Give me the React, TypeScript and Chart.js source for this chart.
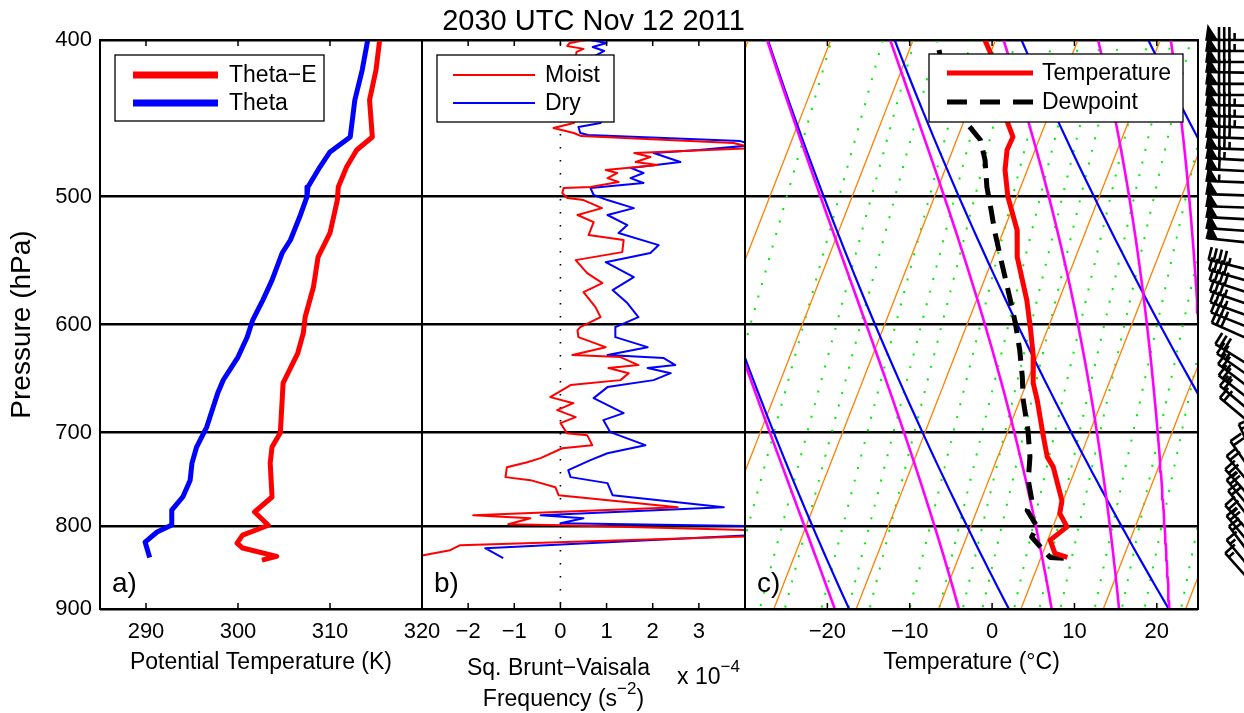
import React, { useEffect, useRef } from "react";
import { Chart, registerables } from "chart.js";

Chart.register(...registerables);

const FONT = "'Liberation Sans', Arial, Helvetica, sans-serif";

// ---------------- text ----------------
const chartTitle = "2030 UTC Nov 12 2011";
const yAxisTitle = "Pressure (hPa)";
const xTitleA = "Potential Temperature (K)";
const xTitleB1 = "Sq. Brunt\u2212Vaisala";
const xTitleB2 = "Frequency (s";
const xTitleB2Sup = "\u22122";
const xTitleC = "Temperature (\u00B0C)";
const exponentBase = "x 10";
const exponentSup = "\u22124";
const panelLetters = ["a)", "b)", "c)"];

// ---------------- ticks ----------------
const pressureTicks = [400, 500, 600, 700, 800, 900];
const thetaTicks = [290, 300, 310, 320];
const bvTicks = [-2, -1, 0, 1, 2, 3];
const tempTicks = [-20, -10, 0, 10, 20];

// ---------------- panel a : potential temperature (K) ----------------
const thetaEPres = [400, 417.5, 435.7, 459.3, 467.9, 479.4, 493.2, 502.5, 526.6, 545.0, 568.8, 593.6, 607.3, 624.9, 652.2, 668.3, 700.0, 714.5, 731.0, 767.2, 783.8, 798.7, 810.1, 819.3, 825.1, 835.0, 839.5];
const thetaEVals = [315.4, 315.0, 314.3, 314.6, 312.9, 311.8, 310.9, 310.8, 310.0, 308.7, 308.2, 307.3, 307.1, 306.5, 304.9, 304.8, 304.6, 303.7, 303.5, 303.7, 301.8, 303.3, 300.5, 299.9, 300.5, 304.2, 302.6];
const thetaPres = [400, 417.5, 435.7, 459.3, 469.2, 479.4, 493.2, 500, 514.8, 531.9, 541.9, 563.2, 579.5, 596.2, 610.8, 628.5, 649.4, 661.6, 694.4, 714.5, 731.0, 749.0, 767.2, 781.6, 798.5, 806.5, 818.1, 836.2];
const thetaVals = [314.1, 313.5, 312.7, 312.2, 310.0, 308.9, 307.6, 307.5, 306.7, 305.7, 304.8, 303.7, 302.7, 301.6, 301.0, 300.0, 298.4, 297.8, 296.6, 295.5, 295.0, 294.8, 294.0, 292.8, 292.8, 291.2, 289.9, 290.4];

// ---------------- panel b : N^2 (x 1e-4 s^-2) ----------------
const moistPres = [400, 401.7, 403.4, 405.1, 406.8, 414.5, 426.5, 438.8, 447.0, 450.2, 453.5, 456.7, 458.7, 463.3, 466.6, 469.9, 472.6, 476.0, 478.0, 481.4, 483.5, 487.0, 489.7, 493.2, 493.9, 497.5, 501.0, 502.5, 508.3, 513.3, 518.5, 528.2, 532.0, 541.2, 547.4, 557.6, 565.6, 572.9, 585.3, 593.7, 602.2, 604.8, 610.9, 619.7, 626.7, 628.5, 635.7, 638.4, 643.1, 649.5, 654.1, 665.4, 671.2, 677.9, 684.7, 690.5, 700.5, 702.5, 712.6, 715.7, 725.9, 730.1, 735.3, 745.8, 749.0, 756.6, 765.2, 778.4, 787.4, 790.8, 797.6, 798.7, 804.4, 811.3, 821.8, 827.6, 833.6, 839.5];
const moistN2 = [0.55, 0.2, 0.15, 0.5, 0.35, 0.3, 0.45, 0.2, 0.35, 0.29, -0.15, 0.29, 0.45, 3.75, 4.2, 1.6, 1.95, 1.63, 2.1, 0.98, 1.23, 1.02, 1.26, 0.65, 0.07, 0.04, 0.15, 0.5, 0.9, 0.37, 0.72, 0.61, 1.37, 1.34, 0.33, 0.58, 0.91, 0.5, 0.76, 0.87, 0.43, 0.37, 0.39, 0.98, 0.26, 1.3, 1.69, 1.04, 1.48, 1.3, 0.22, -0.22, 0.28, -0.07, 0.33, 0, 0.14, 0.58, 0.69, 0.04, -0.43, -0.72, -1.16, -1.19, -0.65, -0.11, -0.04, 2.54, -1.89, -0.65, -1.13, 0.04, 4.2, 4.2, -2.17, -2.39, -2.97, -3.5];
const dryPres = [400, 401.7, 404.0, 406.3, 409.2, 423.5, 435.7, 447.0, 450.2, 452.8, 456.7, 458.0, 462.0, 464.6, 467.9, 469.9, 476.0, 480.0, 483.5, 487.0, 490.4, 493.9, 498.9, 502.5, 508.3, 513.3, 520.7, 526.7, 535.8, 541.9, 549.0, 560.8, 571.3, 581.9, 593.7, 602.2, 610.9, 619.7, 626.7, 629.4, 635.7, 638.4, 643.1, 649.5, 656.0, 666.4, 680.8, 687.6, 699.5, 712.6, 720.8, 728.0, 738.4, 745.8, 752.2, 765.2, 778.4, 787.4, 790.8, 796.4, 799.8, 810.1, 825.3, 837.1];
const dryN2 = [0.65, 1.0, 0.7, 0.95, 0.75, 0.85, 0.6, 0.95, 0.87, 0.39, 0.43, 0.6, 3.9, 4.2, 3.0, 2.02, 2.6, 1.52, 1.8, 1.52, 1.8, 0.65, 0.72, 1.02, 1.59, 1.02, 1.45, 1.26, 2.13, 1.95, 0.98, 1.59, 1.13, 1.45, 1.69, 1.19, 1.19, 1.89, 1.02, 2.24, 2.49, 1.89, 2.39, 2.02, 1.02, 0.72, 1.37, 0.93, 1.08, 1.84, 1.02, 0.65, 0.17, 0.22, 1.02, 1.13, 3.54, -0.43, 0.5, 0, 4.2, 4.2, -1.63, -1.24];

// ---------------- panel c : sounding (deg C) ----------------
const tempPres = [390, 400, 407.5, 430, 450.2, 459.3, 467.9, 481.4, 500, 524.4, 545.0, 579.5, 602.2, 628.5, 652.2, 668.3, 700.0, 724.6, 735.0, 771.1, 785.4, 800.6, 815.9, 831.4, 836.2];
const tempC = [-32.7, -31.3, -30.0, -27.5, -24.6, -23.3, -23.4, -22.7, -21.1, -18.4, -17.1, -13.9, -12.2, -10.4, -9.2, -7.9, -5.7, -4.0, -2.8, -0.15, 0.2, 1.7, 0.3, 1.5, 3.2];
const dewPres = [390, 400, 430, 451.5, 461.3, 474.6, 493.2, 507.5, 525.9, 549.6, 579.5, 598.8, 622.2, 646.7, 668.3, 697.6, 724.6, 749.0, 771.1, 782.0, 800.6, 812.3, 822.7, 836.2, 837.1];
const dewC = [-38.2, -37.1, -33.5, -29.3, -27.1, -25.6, -24.1, -22.7, -21.0, -18.7, -15.9, -14.2, -12.4, -10.8, -9.6, -7.6, -6.1, -5.2, -3.8, -3.9, -1.9, -2.1, -0.7, 1.1, 2.8];

// wind barbs (station pressure hPa, speed kt, direction deg)
const windPres = [400, 406.3, 412.7, 419.2, 425.8, 432.6, 439.4, 446.4, 453.5, 460.6, 467.9, 475.3, 482.8, 490.4, 499.6, 508.3, 517.0, 525.9, 535.0, 557.6, 567.2, 577.1, 587.0, 597.0, 607.3, 617.9, 643.1, 654.1, 665.4, 677.0, 688.6, 700.5, 742.6, 755.5, 768.5, 781.8, 795.2, 808.9, 822.9, 837.1, 851.5, 866.2, 881.1];
const windKt = [85, 85, 80, 80, 80, 80, 85, 85, 85, 80, 75, 65, 60, 55, 50, 50, 50, 50, 50, 45, 40, 40, 35, 35, 35, 30, 30, 25, 25, 25, 20, 20, 15, 20, 20, 25, 20, 20, 25, 20, 20, 15, 15];
const windDir = [270, 270, 270, 271, 270, 270, 271, 271, 272, 272, 272, 273, 273, 272, 272, 272, 273, 274, 276, 284, 286, 288, 289, 290, 292, 294, 302, 305, 307, 308, 310, 310, 335, 325, 320, 318, 320, 322, 318, 320, 323, 320, 318];

// skew-T reference line families
const isothermTemps = [-70, -60, -50, -40, -30, -20, -10, 0, 10, 20, 30];
const dryThetas = [260, 280, 300, 320, 340];
const moistThetaEs = [260, 280, 300, 320, 340, 360];
const mixingRatios = [0.1, 0.2, 0.3, 0.4, 0.6, 0.8, 1, 1.5, 2, 2.5, 3, 4, 5, 6, 8, 10, 12, 16, 20, 24];

const SKEW = 33.2;
const skewX = (t: number, p: number) => t + SKEW * Math.log(1000 / p);

const X_AXIS_H = 104;
const Y_AXIS_W = 100;

type Pt = { x: number; y: number };
const toPts = (xs: number[], ps: number[]): Pt[] => ps.map((p, i) => ({ x: xs[i], y: p }));
const skewPts = (ts: number[], ps: number[]): Pt[] => ps.map((p, i) => ({ x: skewX(ts[i], p), y: p }));

function sampleLevels(): number[] {
  const out: number[] = [];
  for (let p = 1000; p >= 340; p -= 10) out.push(p);
  return out;
}
function satVap(tc: number) {
  return 6.112 * Math.exp((17.67 * tc) / (tc + 243.5));
}
function thetaE(TK: number, p: number) {
  const es = satVap(TK - 273.15);
  const r = (0.622 * es) / (p - es);
  return TK * Math.pow(1000 / p, 0.2857) * Math.exp((2.5e6 * r) / (1004 * TK));
}
function moistT(te: number, p: number) {
  let lo = 170, hi = 330;
  for (let i = 0; i < 50; i++) {
    const mid = (lo + hi) / 2;
    if (thetaE(mid, p) > te) hi = mid; else lo = mid;
  }
  return (lo + hi) / 2 - 273.15;
}
function dewFromW(w: number, p: number) {
  const e = (w * p) / (622 + w);
  const l = Math.log(e / 6.112);
  return (243.5 * l) / (17.67 - l);
}

const base = { pointRadius: 0, pointHoverRadius: 0, fill: false, tension: 0, yAxisID: "y", borderJoinStyle: "round" };

function buildDatasets(): any[] {
  const lv = sampleLevels();
  const ds: any[] = [];
  ds.push({ ...base, label: "Theta\u2212E", data: toPts(thetaEVals, thetaEPres), xAxisID: "xa", borderColor: "#ff0000", borderWidth: 5, order: 0, legendPanel: "xa", legendLineWidth: 7 });
  ds.push({ ...base, label: "Theta", data: toPts(thetaVals, thetaPres), xAxisID: "xa", borderColor: "#0000ff", borderWidth: 5, order: 0, legendPanel: "xa", legendLineWidth: 7 });
  ds.push({ ...base, label: "Moist", data: toPts(moistN2, moistPres), xAxisID: "xb", borderColor: "#ff0000", borderWidth: 2, order: 1, legendPanel: "xb" });
  ds.push({ ...base, label: "Dry", data: toPts(dryN2, dryPres), xAxisID: "xb", borderColor: "#0000ff", borderWidth: 2, order: 2, legendPanel: "xb" });
  ds.push({ ...base, label: "zero", data: [{ x: 0, y: 380 }, { x: 0, y: 920 }], xAxisID: "xb", borderColor: "#000", borderWidth: 1.6, borderDash: [1.6, 11.4], order: 5 });
  ds.push({ ...base, label: "Temperature", data: skewPts(tempC, tempPres), xAxisID: "xc", borderColor: "#ff0000", borderWidth: 5, order: 0, legendPanel: "xc" });
  ds.push({ ...base, label: "Dewpoint", data: skewPts(dewC, dewPres), xAxisID: "xc", borderColor: "#000000", borderWidth: 5, borderDash: [18, 10], order: 0, legendPanel: "xc", legendDash: [20, 13] });
  isothermTemps.forEach((t) => ds.push({ ...base, label: "iso", data: lv.map((p) => ({ x: skewX(t, p), y: p })), xAxisID: "xc", borderColor: "#ff8000", borderWidth: 1.3, order: 40 }));
  dryThetas.forEach((th) => ds.push({ ...base, label: "dry", data: lv.map((p) => ({ x: skewX(th * Math.pow(p / 1000, 0.2857) - 273.15, p), y: p })), xAxisID: "xc", borderColor: "#0000ff", borderWidth: 2.2, order: 30 }));
  moistThetaEs.forEach((te) => ds.push({ ...base, label: "moist", data: lv.map((p) => ({ x: skewX(moistT(te, p), p), y: p })), xAxisID: "xc", borderColor: "#ff00ff", borderWidth: 2.6, order: 20 }));
  mixingRatios.forEach((w) => ds.push({ ...base, label: "mix", data: lv.map((p) => ({ x: skewX(dewFromW(w, p), p), y: p })), xAxisID: "xc", borderColor: "#00ee00", borderWidth: 2, borderDash: [2, 11], borderCapStyle: "butt", order: 50 }));
  return ds;
}

const fmtTick = (v: any) => {
  const n = Number(v);
  return n < 0 ? "\u2212" + Math.abs(n) : String(n);
};

const legendBoxes: Record<string, any> = {
  xa: { dx: 15, dy: 15, w: 209, h: 66, lx0: 18, lx1: 103, tx: 114, rows: [20, 48] },
  xb: { dx: 15, dy: 15, w: 177, h: 67, lx0: 16, lx1: 98, tx: 108, rows: [20, 48] },
  xc: { dx: 184, dy: 14, w: 254, h: 68, lx0: 18, lx1: 104, tx: 113, rows: [19, 48] },
};

function drawBarb(ctx: CanvasRenderingContext2D, x0: number, y0: number, spd: number, dirDeg: number) {
  const L = 55;
  const d = (dirDeg * Math.PI) / 180;
  const sx = Math.sin(d), sy = -Math.cos(d);
  const bx = -sy, by = sx;
  const tx = x0 + sx * L, ty = y0 + sy * L;
  const P = (a: number, h: number) => [tx - sx * a + bx * h, ty - sy * a + by * h];
  ctx.lineWidth = 2.6;
  ctx.beginPath();
  ctx.moveTo(x0, y0);
  ctx.lineTo(tx, ty);
  ctx.stroke();
  let rem = Math.round(spd / 5) * 5;
  let a = 0;
  while (rem >= 50) {
    const p1 = P(a - 1, 0), p2 = P(a + 1, 14), p3 = P(a + 10, 0);
    ctx.beginPath();
    ctx.moveTo(p1[0], p1[1]);
    ctx.lineTo(p2[0], p2[1]);
    ctx.lineTo(p3[0], p3[1]);
    ctx.closePath();
    ctx.fill();
    ctx.lineWidth = 1.5;
    ctx.stroke();
    a += 12;
    rem -= 50;
  }
  ctx.lineWidth = 2.6;
  while (rem >= 10) {
    const p1 = P(a, 0), p2 = P(a, 13);
    ctx.beginPath();
    ctx.moveTo(p1[0], p1[1]);
    ctx.lineTo(p2[0], p2[1]);
    ctx.stroke();
    a += 5.2;
    rem -= 10;
  }
  if (rem >= 5) {
    if (a === 0) a = 5;
    const p1 = P(a, 0), p2 = P(a, 7);
    ctx.beginPath();
    ctx.moveTo(p1[0], p1[1]);
    ctx.lineTo(p2[0], p2[1]);
    ctx.stroke();
  }
}

function drawSup(ctx: CanvasRenderingContext2D, main: string, sup: string, after: string, cx: number | null, x0: number, y: number, size: number) {
  ctx.font = `${size}px ${FONT}`;
  const w1 = ctx.measureText(main).width;
  const w3 = ctx.measureText(after).width;
  ctx.font = `${Math.round(size * 0.72)}px ${FONT}`;
  const w2 = ctx.measureText(sup).width;
  const start = cx !== null ? cx - (w1 + w2 + w3) / 2 : x0;
  ctx.textAlign = "left";
  ctx.textBaseline = "middle";
  ctx.font = `${size}px ${FONT}`;
  ctx.fillText(main, start, y);
  ctx.font = `${Math.round(size * 0.72)}px ${FONT}`;
  ctx.fillText(sup, start + w1, y - size * 0.48);
  ctx.font = `${size}px ${FONT}`;
  if (after) ctx.fillText(after, start + w1 + w2, y);
}

const sketchPlugin = {
  id: "sketch",
  beforeDatasetDraw(chart: any, args: any) {
    const xs = chart.scales[args.meta.xAxisID];
    const ca = chart.chartArea;
    const ctx = chart.ctx;
    ctx.save();
    ctx.beginPath();
    ctx.rect(xs.left, ca.top, xs.right - xs.left, ca.bottom - ca.top);
    ctx.clip();
  },
  afterDatasetDraw(chart: any) {
    chart.ctx.restore();
  },
  afterDatasetsDraw(chart: any) {
    const ctx: CanvasRenderingContext2D = chart.ctx;
    const ca = chart.chartArea;
    const ids = ["xa", "xb", "xc"];
    ctx.save();
    ctx.setLineDash([]);
    // panel frames
    ctx.strokeStyle = "#000";
    ctx.lineWidth = 2;
    ids.forEach((id) => {
      const s = chart.scales[id];
      ctx.strokeRect(s.left, ca.top, s.right - s.left, ca.bottom - ca.top);
    });
    // inward tick marks
    ctx.lineWidth = 1.5;
    ids.forEach((id) => {
      const s = chart.scales[id];
      s.ticks.forEach((t: any) => {
        const x = s.getPixelForValue(t.value);
        if (x <= s.left + 1 || x >= s.right - 1) return;
        ctx.beginPath();
        ctx.moveTo(x, ca.bottom);
        ctx.lineTo(x, ca.bottom - 6);
        ctx.moveTo(x, ca.top);
        ctx.lineTo(x, ca.top + 6);
        ctx.stroke();
      });
    });
    // panel letters
    ctx.fillStyle = "#000";
    ctx.font = `28px ${FONT}`;
    ctx.textAlign = "left";
    ctx.textBaseline = "alphabetic";
    ids.forEach((id, i) => {
      const s = chart.scales[id];
      ctx.fillText(panelLetters[i], s.left + 12, ca.bottom - 17);
    });
    // legends
    ids.forEach((id) => {
      const lb = legendBoxes[id];
      const s = chart.scales[id];
      const items = chart.data.datasets.filter((d: any) => d.legendPanel === id);
      const bx = s.left + lb.dx, by = ca.top + lb.dy;
      ctx.fillStyle = "#fff";
      ctx.fillRect(bx, by, lb.w, lb.h);
      ctx.strokeStyle = "#000";
      ctx.lineWidth = 1.3;
      ctx.setLineDash([]);
      ctx.strokeRect(bx, by, lb.w, lb.h);
      items.forEach((d: any, i: number) => {
        const y = by + lb.rows[i];
        ctx.beginPath();
        ctx.strokeStyle = d.borderColor;
        ctx.lineWidth = d.legendLineWidth || d.borderWidth;
        ctx.setLineDash(d.legendDash || []);
        ctx.lineCap = "butt";
        ctx.moveTo(bx + lb.lx0, y);
        ctx.lineTo(bx + lb.lx1, y);
        ctx.stroke();
        ctx.setLineDash([]);
        ctx.fillStyle = "#000";
        ctx.font = `23px ${FONT}`;
        ctx.textAlign = "left";
        ctx.textBaseline = "middle";
        ctx.fillText(d.label, bx + lb.tx, y + 1);
      });
    });
    ctx.restore();
  },
  afterDraw(chart: any) {
    const ctx: CanvasRenderingContext2D = chart.ctx;
    const ca = chart.chartArea;
    const xb = chart.scales.xb;
    const ys = chart.scales.y;
    ctx.save();
    ctx.fillStyle = "#000";
    // title
    ctx.font = `29px ${FONT}`;
    ctx.textAlign = "center";
    ctx.textBaseline = "middle";
    ctx.fillText(chartTitle, (xb.left + xb.right) / 2 + 10, 22);
    // panel b axis title
    ctx.font = `23px ${FONT}`;
    ctx.fillText(xTitleB1, (xb.left + xb.right) / 2 - 25, 669);
    drawSup(ctx, xTitleB2, xTitleB2Sup, ")", (xb.left + xb.right) / 2 - 20, 0, 700, 23);
    drawSup(ctx, exponentBase, exponentSup, "", null, xb.right - 68, 678, 23);
    // wind barbs
    ctx.strokeStyle = "#000";
    ctx.fillStyle = "#000";
    ctx.lineCap = "butt";
    const sx0 = ca.right + 64;
    windPres.forEach((p, i) => {
      const y = ys.getPixelForValue(p);
      drawBarb(ctx, sx0, y, windKt[i], windDir[i]);
    });
    ctx.restore();
  },
};

function xScale(min: number, max: number, weight: number, ticks: number[], title: string | null) {
  return {
    type: "linear",
    position: "bottom",
    stack: "panels",
    stackWeight: weight,
    min,
    max,
    afterBuildTicks: (s: any) => {
      s.ticks = ticks.map((v) => ({ value: v }));
    },
    afterFit: (s: any) => {
      s.height = X_AXIS_H;
    },
    grid: { display: false, drawTicks: false },
    border: { display: false },
    ticks: { font: { size: 22, family: FONT }, color: "#000", padding: 10, maxRotation: 0, minRotation: 0, autoSkip: false, callback: fmtTick },
    title: title
      ? { display: true, text: title, color: "#000", font: { size: 23, family: FONT }, padding: { top: 0, bottom: 37 } }
      : { display: false },
  };
}

export default function App() {
  const ref = useRef<HTMLCanvasElement | null>(null);
  useEffect(() => {
    const canvas = ref.current;
    if (!canvas) return;
    const chart = new Chart(canvas, {
      type: "line",
      data: { datasets: buildDatasets() },
      options: {
        responsive: false,
        animation: false,
        events: [],
        layout: { padding: { top: 40, right: 46, bottom: 0, left: 0 } },
        plugins: { legend: { display: false }, tooltip: { enabled: false }, title: { display: false } },
        scales: {
          xa: xScale(285, 320, 322, thetaTicks, xTitleA),
          xb: xScale(-3, 4, 323, bvTicks, null),
          xc: xScale(-30, 25, 453, tempTicks, xTitleC),
          y: {
            type: "logarithmic",
            position: "left",
            reverse: true,
            min: 400,
            max: 900,
            afterBuildTicks: (s: any) => {
              s.ticks = pressureTicks.map((v) => ({ value: v }));
            },
            afterFit: (s: any) => {
              s.width = Y_AXIS_W;
            },
            grid: { color: "#000", lineWidth: 2.5, drawTicks: false },
            border: { display: false },
            ticks: { font: { size: 22, family: FONT }, color: "#000", padding: 8, autoSkip: false, callback: (v: any) => String(v) },
            title: { display: true, text: yAxisTitle, color: "#000", font: { size: 28, family: FONT }, padding: { top: 5, bottom: 0 } },
          },
        },
      } as any,
      plugins: [sketchPlugin as any],
    });
    return () => chart.destroy();
  }, []);
  return (
    <div style={{ position: "absolute", left: 0, top: 0, width: 1244, height: 713, background: "#fff" }}>
      <canvas ref={ref} width={1244} height={713} style={{ display: "block" }} />
    </div>
  );
}
